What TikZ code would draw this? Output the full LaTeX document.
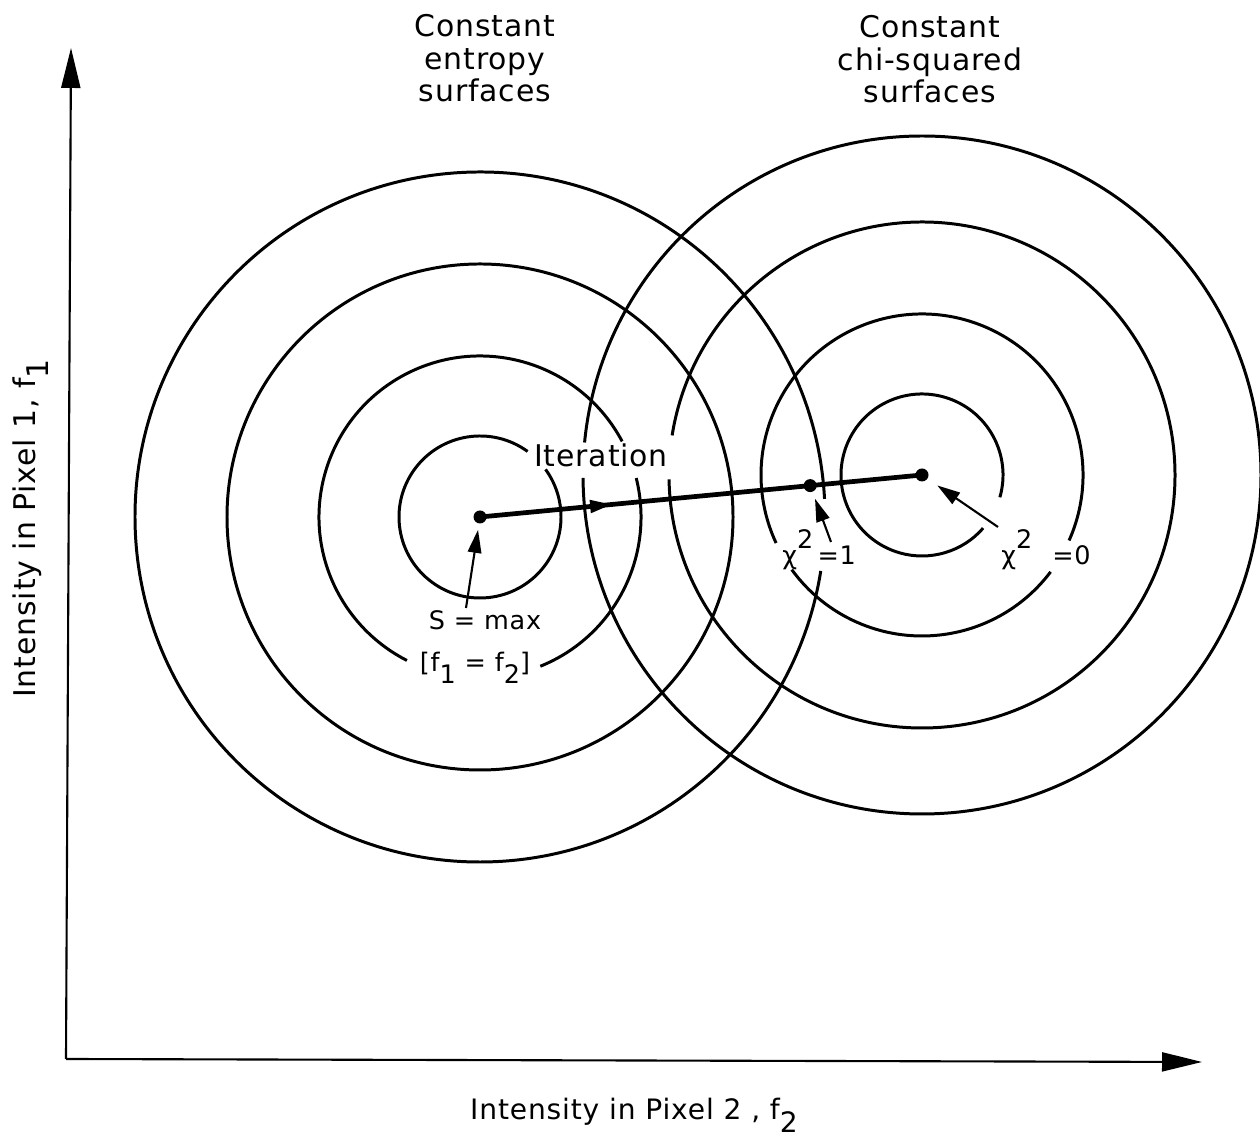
\documentclass[tikz,border=0pt]{standalone}
\usepackage{fontspec}
\setmainfont{DejaVu Sans}[LetterSpace=3]
\usepackage{tikz}
\usetikzlibrary{arrows.meta, calc, decorations.markings}

\newcommand{\lowdig}[1]{\raisebox{-0.8ex}{#1}}
\newcommand{\updig}[1]{\raisebox{1.2ex}{#1}}

\begin{document}
\begin{tikzpicture}[
      ring/.style={line width=1.7pt},
      iterline/.style={line width=2.7pt, postaction={decorate},
                       decoration={markings, mark=at position 0.3 with
                         {\arrow{Triangle[length=0.45cm, width=0.24cm]}}}},
      dot/.style={circle, fill, inner sep=0pt, minimum size=0.26cm},
      pointer/.style={line width=1.2pt, -{Triangle[length=0.46cm, width=0.27cm]}},
      axis/.style={line width=1.2pt, -{Triangle[length=0.8cm, width=0.38cm]}},
      hdr/.style={font=\fontsize{17}{18.5}\selectfont, align=center, inner sep=0pt},
      lbl/.style={font=\fontsize{14.5}{16}\selectfont, inner sep=0pt},
      axlbl/.style={font=\fontsize{16}{18}\selectfont, inner sep=0pt}
    ]
    \useasboundingbox (0,0) rectangle (25.2,22.84);

    % Axes
    \coordinate (origin) at (1.32,1.66);
    \coordinate (ytip)   at (1.42,21.88);
    \coordinate (xtip)   at (24.04,1.60);
    \draw[axis] (origin) -- (ytip);
    \draw[axis] (origin) -- (xtip);
    \node[axlbl, anchor=base] (xlbl) at (12.68,0.44) {Intensity in Pixel 2 , f\lowdig{2}};
    \node[hdr, rotate=90, anchor=base] (ylbl) at (0.70,12.27) {Intensity in Pixel 1, f\lowdig{1}};

    % Header row
    \node[hdr, anchor=north] (entropyhdr) at (9.7,22.56) {Constant\\entropy\\surfaces};
    \node[hdr, anchor=north] (chisqhdr)   at (18.6,22.54) {Constant\\chi-squared\\surfaces};

    % Solution points
    \node[dot] (smax)    at (9.6,12.5) {};
    \node[dot] (chizero) at (18.44,13.34) {};
    \node[dot] (chione)  at ($(smax)!0.747!(chizero)$) {};

    % Constant entropy surfaces
    \draw[ring] (smax.center) ++(54:1.62) arc[start angle=54, end angle=396, radius=1.62];
    \draw[ring] (smax.center) ++(28:3.22) arc[start angle=28, end angle=243, radius=3.22];
    \draw[ring] (smax.center) ++(292:3.22) arc[start angle=292, end angle=374, radius=3.22];
    \draw[ring] (smax.center) circle[radius=5.06];
    \draw[ring] (smax.center) ++(3:6.9) arc[start angle=3, end angle=351, radius=6.9];

    % Constant chi-squared surfaces
    \draw[ring] (chizero.center) ++(-16:1.62) arc[start angle=-16, end angle=319, radius=1.62];
    \draw[ring] (chizero.center) ++(-24:3.22) arc[start angle=-24, end angle=205, radius=3.22];
    \draw[ring] (chizero.center) ++(216:3.22) arc[start angle=216, end angle=323, radius=3.22];
    \draw[ring] (chizero.center) ++(181:5.06) arc[start angle=181, end angle=531, radius=5.06];
    \draw[ring] (chizero.center) ++(180.5:6.78) arc[start angle=180.5, end angle=534.5, radius=6.78];

    % Iteration path
    \draw[iterline] (smax.center) -- (chizero.center);
    \node[hdr, anchor=base] (iterlbl) at (12.02,13.5) {Iteration};

    % Labels and pointers
    \node[lbl, anchor=base] (smaxlbl) at (9.7,10.24) {S = max};
    \node[lbl, anchor=base] (fequal)  at (9.5,9.4) {[f\lowdig{1} = f\lowdig{2}]};
    \node[lbl, anchor=base west] (chionelbl)  at (15.64,11.54) {χ\updig{2}\,=1};
    \node[lbl, anchor=base west] (chizerolbl) at (20.02,11.54) {χ\updig{2}\hspace{0.4cm}=0};
    \coordinate (smaxtail)    at (9.32,10.68);
    \coordinate (chionetail)  at (16.62,12.0);
    \coordinate (chizerotail) at (19.96,12.3);
    \draw[pointer, shorten >=0.26cm] (smaxtail) -- (smax.center);
    \draw[pointer, shorten >=0.28cm] (chionetail) -- (chione.center);
    \draw[pointer, shorten >=0.37cm] (chizerotail) -- (chizero.center);
  \end{tikzpicture}
\end{document}
